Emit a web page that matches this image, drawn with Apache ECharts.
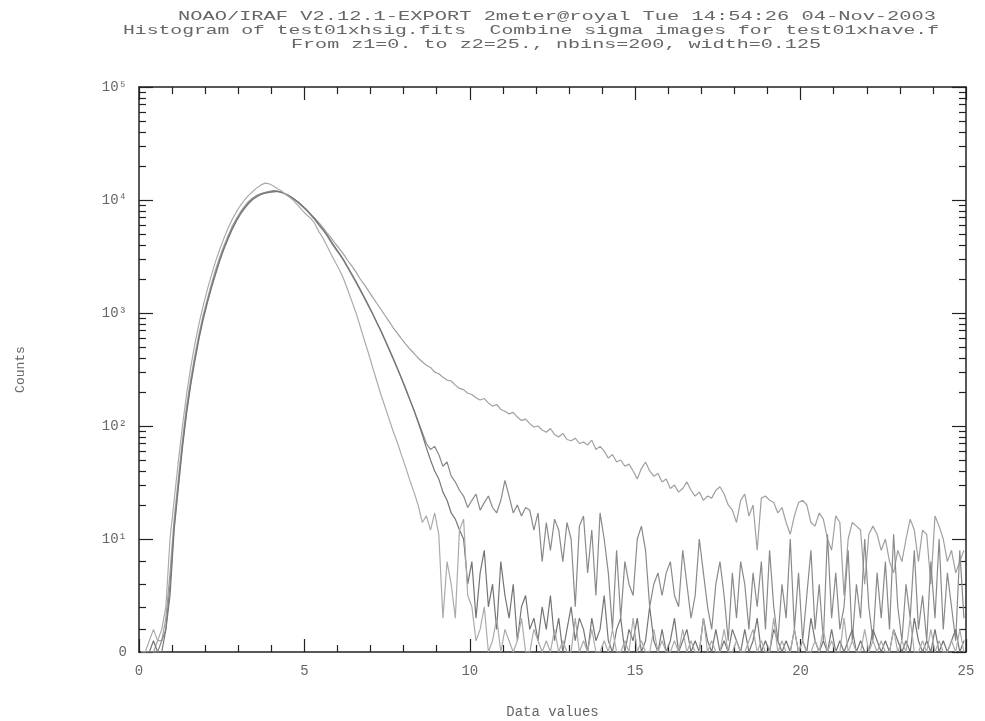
<!DOCTYPE html>
<html>
<head>
<meta charset="utf-8">
<title>Histogram of test01xhsig.fits</title>
<script src="https://cdn.jsdelivr.net/npm/echarts@6/dist/echarts.min.js"></script>
<style>
html, body { margin: 0; padding: 0; background: #fff; }
#chart { width: 985px; height: 721px; }
</style>
</head>
<body>
<div id="chart"></div>
<script>
// phistogram parameters
var z1 = 0, z2 = 25, nbins = 200, binWidth = 0.125;

var titleLines = [
  'NOAO/IRAF V2.12.1-EXPORT 2meter@royal Tue 14:54:26 04-Nov-2003',
  'Histogram of test01xhsig.fits  Combine sigma images for test01xhave.f',
  'From z1=0. to z2=25., nbins=200, width=0.125'
];
var xTickValues = [0, 5, 10, 15, 20, 25];
var yTickValues = [0, 1, 2, 3, 4, 5];
var yTickLabels = ['0', '10\u00b9', '10\u00b2', '10\u00b3', '10\u2074', '10\u2075'];

// counts per bin
var countsA = [
  0,0,0,0,1,1,3,7,15,34,
  75,150,260,420,650,950,1320,1800,2400,3100,
  3900,4800,5800,6800,7800,8800,9700,10400,11000,11400,
  11700,11900,12000,11900,11600,11200,10700,10100,9500,8800,
  8200,7500,6900,6300,5700,5100,4600,4100,3700,3300,
  2900,2600,2300,2000,1780,1570,1380,1220,1080,950,
  840,740,660,590,530,480,440,400,370,345,
  330,300,290,270,255,250,230,215,210,195,
  190,178,170,175,160,150,155,140,135,128,
  132,120,112,115,105,98,100,92,88,95,
  84,80,86,76,74,78,70,72,68,75,
  62,66,60,52,56,48,50,44,46,40,
  34,42,48,40,36,38,32,34,28,30,
  26,28,32,27,24,26,22,24,23,27,
  29,25,20,18,14,22,25,16,20,9,
  23,24,22,21,17,19,14,11,16,21,
  22,20,14,13,17,15,10,9,16,14,
  5,10,14,13,12,6,11,13,11,9,
  10,8,7,9,8,10,15,12,8,12,
  11,6,16,13,10,8,9,7,8,9
];
var countsB = [
  0,0,0,0,0,1,2,6,13,30,
  68,135,240,390,610,900,1250,1700,2250,2950,
  3750,4600,5600,6600,7600,8600,9500,10300,10900,11300,
  11600,11800,12100,12000,11700,11300,10800,10200,9500,8800,
  8100,7400,6700,6000,5400,4800,4200,3700,3300,2900,
  2500,2150,1850,1580,1350,1150,980,820,690,570,
  470,390,320,260,210,170,138,110,88,70,
  62,66,56,44,48,36,32,27,24,19,
  22,25,18,21,24,19,17,22,33,24,
  17,20,16,19,18,12,17,8,14,9,
  15,12,8,14,10,4,13,16,7,12,
  5,17,10,7,2,9,3,8,6,5,
  10,13,9,4,6,7,5,7,8,5,
  4,9,6,3,5,10,7,4,2,6,
  8,5,1,7,3,8,6,2,7,4,
  8,2,9,4,1,6,3,10,2,7,
  1,5,9,2,6,1,11,3,7,2,
  4,9,1,6,3,10,4,1,7,3,
  8,2,11,4,1,6,3,9,2,5,
  1,8,3,10,2,7,4,1,9,3
];
var countsC = [
  0,0,0,1,0,0,2,5,12,28,
  64,128,230,375,590,870,1220,1660,2200,2880,
  3650,4500,5450,6450,7450,8400,9300,10100,10700,11200,
  11500,11700,11800,11900,11700,11300,10800,10200,9600,8900,
  8200,7500,6800,6100,5500,4900,4300,3800,3350,2950,
  2550,2200,1900,1620,1380,1170,990,830,700,580,
  480,395,325,265,215,172,138,108,84,64,
  50,40,34,26,22,17,15,12,10,6,
  8,3,7,9,4,6,2,8,5,3,
  6,1,4,5,2,3,1,4,2,5,
  1,3,0,2,4,1,3,2,0,3,
  1,2,5,1,0,2,3,0,2,1,
  3,0,1,4,1,0,2,0,1,3,
  0,1,2,0,1,0,3,1,0,2,
  0,1,0,2,1,0,2,0,1,3,
  0,1,0,2,1,0,1,0,2,0,
  1,0,3,1,0,1,0,2,0,1,
  0,1,2,0,1,0,0,2,1,0,
  1,0,2,1,0,1,0,3,1,0,
  1,0,2,0,1,0,1,2,0,1
];
var countsD = [
  0,0,1,2,1,2,4,10,22,48,
  100,190,330,530,800,1150,1600,2150,2850,3650,
  4550,5600,6700,7800,8900,10000,11000,11900,12800,13600,
  14100,13900,13300,12600,12000,11200,10500,9800,8900,8100,
  7400,6900,6200,5250,4600,3900,3300,2800,2400,2000,
  1600,1260,1000,760,575,440,330,250,190,148,
  115,89,71,55,43,33,26,20,14,16,
  12,17,11,3,8,6,3,12,15,5,
  4,1,2,4,0,1,3,0,2,1,
  0,1,3,0,0,2,1,0,1,0,
  2,0,1,0,0,3,0,1,0,2,
  0,0,1,0,2,0,0,1,0,3,
  0,1,0,0,2,0,1,0,0,1,
  0,2,0,1,0,0,3,0,1,0,
  0,2,0,0,1,0,0,1,2,0,
  1,0,0,3,0,1,0,0,2,0,
  1,0,0,1,0,2,0,1,0,0,
  3,0,1,0,0,2,0,1,0,1,
  0,0,2,0,1,0,3,0,0,1,
  0,2,0,1,0,0,1,0,2,0
];

// IRAF style y scale: linear 0..10, log above
function toAxis(c) {
  return c <= 10 ? c / 10 : Math.log10(c);
}
function toPoints(counts) {
  return counts.map(function (c, i) {
    return [z1 + (i + 0.5) * binWidth, toAxis(c)];
  });
}

var minorY = [0.2, 0.4, 0.6, 0.8];
for (var d = 1; d < 5; d++) {
  for (var k = 2; k < 10; k++) minorY.push(d + Math.log10(k));
}

var font = 'Liberation Mono';
var frame = '#222';
var textColor = '#666';

// title, stretched like the IRAF vector font
var ctx = document.createElement('canvas').getContext('2d');
ctx.font = '13px "' + font + '"';
var titleBoxes = [
  { cx: 557, y: 17, w: 758 },
  { cx: 531, y: 31, w: 816 },
  { cx: 556, y: 45, w: 530 }
];
var titleGraphics = titleLines.map(function (t, i) {
  var b = titleBoxes[i];
  return {
    type: 'text',
    x: b.cx,
    y: b.y,
    scaleX: b.w / ctx.measureText(t).width,
    silent: true,
    style: {
      text: t,
      font: '13px "' + font + '"',
      fill: '#666',
      textAlign: 'center',
      textVerticalAlign: 'middle',
      verticalAlign: 'middle'
    }
  };
});

function xAxisOf(pos, showLabel) {
  return {
    type: 'value',
    position: pos,
    min: z1,
    max: z2,
    interval: 5,
    axisLine: { show: true, onZero: false, lineStyle: { color: frame, width: 1.5 } },
    axisTick: { show: true, inside: true, length: 13, lineStyle: { color: frame, width: 1.2 } },
    minorTick: { show: true, splitNumber: 5, length: 7, lineStyle: { color: frame, width: 1.2 } },
    splitLine: { show: false },
    axisLabel: {
      show: showLabel,
      margin: 12,
      color: textColor,
      fontFamily: font,
      fontSize: 14
    },
    name: showLabel ? 'Data values' : '',
    nameLocation: 'middle',
    nameGap: 53,
    nameTextStyle: { color: textColor, fontFamily: font, fontSize: 14 }
  };
}

function yAxisOf(pos, major) {
  return {
    type: 'value',
    position: pos,
    min: 0,
    max: 5,
    axisLine: { show: major, onZero: false, lineStyle: { color: frame, width: 1.5 } },
    axisTick: {
      show: true,
      inside: true,
      length: major ? 14 : 7,
      customValues: major ? yTickValues : minorY,
      lineStyle: { color: frame, width: 1.2 }
    },
    splitLine: { show: false },
    axisLabel: {
      show: major && pos === 'left',
      customValues: yTickValues,
      margin: 12,
      color: textColor,
      fontFamily: font,
      fontSize: 14,
      formatter: function (v) {
        return yTickLabels[yTickValues.indexOf(Math.round(v))];
      }
    },
    name: major && pos === 'left' ? 'Counts' : '',
    nameLocation: 'middle',
    nameRotate: 90,
    nameGap: 112,
    nameTextStyle: { color: textColor, fontFamily: font, fontSize: 13 }
  };
}

var lineColors = ['#a0a0a0', '#8a8a8a', '#757575', '#ababab'];
var allCounts = [countsA, countsB, countsC, countsD];

var chart = echarts.init(document.getElementById('chart'), null, { renderer: 'canvas' });
chart.setOption({
  animation: false,
  backgroundColor: '#fff',
  grid: { left: 139, right: 19, top: 87, bottom: 69, containLabel: false, outerBoundsMode: 'none' },
  graphic: titleGraphics,
  xAxis: [xAxisOf('bottom', true), xAxisOf('top', false)],
  yAxis: [yAxisOf('left', true), yAxisOf('left', false), yAxisOf('right', true), yAxisOf('right', false)],
  series: allCounts.map(function (counts, i) {
    return {
      type: 'line',
      xAxisIndex: 0,
      yAxisIndex: 0,
      data: toPoints(counts),
      showSymbol: false,
      symbol: 'none',
      silent: true,
      lineStyle: { color: lineColors[i], width: 1.2 },
      z: 2
    };
  })
});
</script>
</body>
</html>
